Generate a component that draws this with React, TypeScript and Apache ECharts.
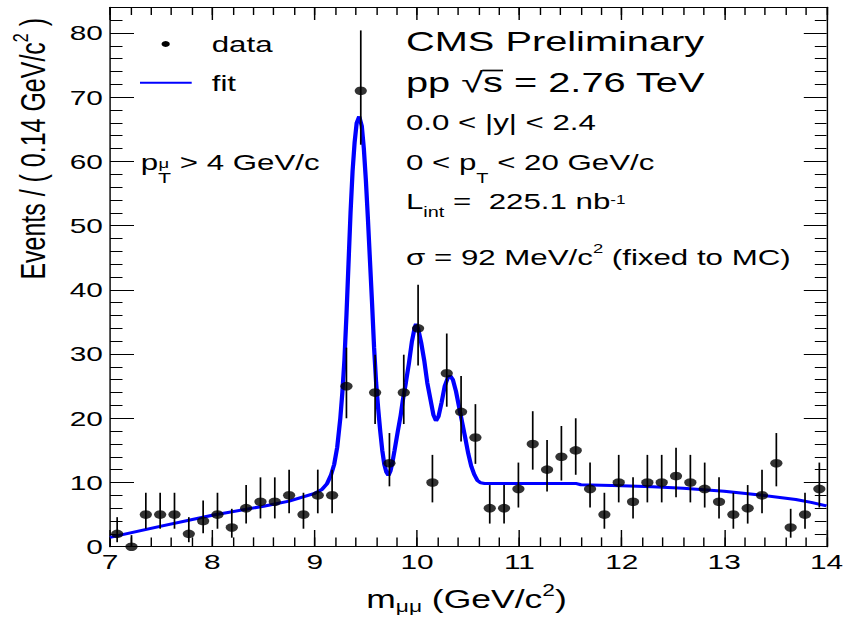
import React, { useEffect, useRef } from "react";
import * as echarts from "echarts";

const FONT = '"Liberation Sans", Arial, Helvetica, sans-serif';
const PAGE_W = 848;
const PAGE_H = 618;
const INNER_W = 597;
const S = PAGE_W / INNER_W; // horizontal stretch of the original picture
const ix = (xOuter: number) => xOuter / S;

// ---- data (bin width 0.14 GeV/c^2) ----
const binCenters = [
  7.07, 7.21, 7.35, 7.49, 7.63, 7.77, 7.91, 8.05, 8.19, 8.33,
  8.47, 8.61, 8.75, 8.89, 9.03, 9.17, 9.31, 9.45, 9.59, 9.73,
  9.87, 10.01, 10.15, 10.29, 10.43, 10.57, 10.71, 10.85, 10.99, 11.13,
  11.27, 11.41, 11.55, 11.69, 11.83, 11.97, 12.11, 12.25, 12.39, 12.53,
  12.67, 12.81, 12.95, 13.09, 13.23, 13.37, 13.51, 13.65, 13.79, 13.93,
];
const counts = [
  2, 0, 5, 5, 5, 2, 4, 5, 3, 6,
  7, 7, 8, 5, 8, 8, 25, 71, 24, 13,
  24, 34, 10, 27, 21, 17, 6, 6, 9, 16,
  12, 14, 15, 9, 5, 10, 7, 10, 10, 11,
  10, 9, 7, 5, 6, 8, 13, 3, 5, 9,
];
const errLow = [
  0.7, 0, 2.8, 2.8, 2.8, 0.7, 2.1, 2.8, 1.4, 3.6,
  4.4, 4.4, 5.2, 2.8, 5.2, 5.2, 20.0, 62.6, 19.1, 9.4,
  19.1, 28.2, 6.9, 21.8, 16.4, 12.9, 3.6, 3.6, 6.1, 12.0,
  8.6, 10.3, 11.2, 6.1, 2.8, 6.9, 4.4, 6.9, 6.9, 7.7,
  6.9, 6.1, 4.4, 2.8, 3.6, 5.2, 9.4, 1.4, 2.8, 6.1,
];
const errHigh = [
  4.6, 1.8, 8.4, 8.4, 8.4, 4.6, 7.2, 8.4, 5.9, 9.6,
  10.8, 10.8, 12.0, 8.4, 12.0, 12.0, 31.0, 80.4, 29.9, 17.7,
  29.9, 40.8, 14.3, 33.2, 26.6, 22.2, 9.6, 9.6, 13.1, 21.1,
  16.6, 18.8, 20.0, 13.1, 8.4, 14.3, 10.8, 14.3, 14.3, 15.4,
  14.3, 13.1, 10.8, 8.4, 9.6, 12.0, 17.7, 5.9, 8.4, 13.1,
];

// fit curve
const fitMass = [
  7.0, 7.5, 8.0, 8.5, 8.75, 9.0, 9.07, 9.12, 9.16, 9.19,
  9.22, 9.25, 9.27, 9.29, 9.31, 9.33, 9.35, 9.37, 9.39, 9.41,
  9.435, 9.46, 9.48, 9.5, 9.52, 9.54, 9.56, 9.58, 9.6, 9.62,
  9.64, 9.66, 9.68, 9.7, 9.72, 9.74, 9.76, 9.78, 9.81, 9.84,
  9.86, 9.89, 9.92, 9.95, 9.975, 9.99, 10.01, 10.04, 10.07, 10.1,
  10.13, 10.16, 10.185, 10.21, 10.24, 10.27, 10.3, 10.325, 10.35, 10.38,
  10.41, 10.44, 10.47, 10.5, 10.53, 10.56, 10.59, 10.62, 10.66, 11.55,
  11.6, 12.0, 12.3, 12.6, 13.0, 13.35, 13.7, 13.85, 14.0,
];
const fitEvents = [
  1.45, 3.2, 4.9, 6.3, 7.1, 8.3, 8.9, 9.8, 11.2, 12.8,
  15.5, 20.0, 24.0, 29.0, 36.0, 44.0, 52.0, 58.5, 63.0, 66.0,
  67.0, 65.5, 62.0, 57.0, 51.0, 44.5, 38.0, 31.0, 25.5, 21.5,
  18.0, 15.0, 12.8, 11.6, 11.1, 11.8, 13.2, 15.0, 17.8, 20.5,
  22.7, 25.5, 28.5, 32.0, 34.0, 34.7, 34.0, 31.8, 29.0, 25.5,
  23.0, 20.5, 19.6, 20.3, 22.5, 25.0, 26.3, 26.6, 26.0, 24.2,
  21.8, 19.4, 17.0, 14.5, 12.5, 11.2, 10.3, 9.95, 9.85, 9.85,
  9.65, 9.5, 9.35, 9.1, 8.65, 8.05, 7.35, 6.9, 6.35,
];

const xTickLabels = ["7", "8", "9", "10", "11", "12", "13", "14"];
const yTickLabels = ["0", "10", "20", "30", "40", "50", "60", "70", "80"];

// ---- text helpers (rich text with sub/superscripts) ----
type Seg = { t: string; fs?: number; d?: number };
function richText(segs: Seg[], F: number) {
  const L = Math.round(F * 2.4);
  const rich: Record<string, any> = {
    n: { fontSize: F, fontFamily: FONT, lineHeight: L, verticalAlign: "middle", fill: "#000", color: "#000" },
  };
  let text = "";
  segs.forEach((s, i) => {
    if (s.fs == null) {
      text += `{n|${s.t}}`;
      return;
    }
    const name = "s" + i;
    const off = 0.347 * F + (s.d || 0) - 0.347 * s.fs;
    const h = L - 2 * Math.abs(off);
    rich[name] = {
      fontSize: s.fs,
      fontFamily: FONT,
      fill: "#000",
      color: "#000",
      lineHeight: h,
      height: h,
      verticalAlign: off >= 0 ? "bottom" : "top",
    };
    text += `{${name}|${s.t}}`;
  });
  return { text, rich };
}
function label(segs: Seg[], F: number, xOuter: number, baseline: number, align = "left", extra: any = {}) {
  const r = richText(segs, F);
  return {
    type: "text",
    x: ix(xOuter),
    y: baseline - 0.347 * F,
    silent: true,
    style: {
      text: r.text,
      rich: r.rich,
      fontSize: F,
      fontFamily: FONT,
      fill: "#000",
      align,
      textAlign: align,
      verticalAlign: "middle",
      textVerticalAlign: "middle",
    },
    ...extra,
  };
}

// radical bar over the "s" of "pp √s"
function sqrtBar(F: number, xOuter: number, baseline: number) {
  const x0 = ix(xOuter);
  let left = x0 + 0.549 * F + 1.39 * F - 1;
  let right = left + 0.5 * F + 1;
  let top = baseline - 0.8 * F;
  try {
    const ctx = document.createElement("canvas").getContext("2d");
    if (ctx) {
      ctx.font = `${F}px ${FONT}`;
      const m1 = ctx.measureText("pp √");
      const m2 = ctx.measureText("pp √s");
      const mr = ctx.measureText("√");
      left = x0 + (m1.actualBoundingBoxRight || m1.width) - 1.2;
      right = x0 + (m2.actualBoundingBoxRight || m2.width) + 1;
      if (mr.actualBoundingBoxAscent) top = baseline - mr.actualBoundingBoxAscent + 0.8;
    }
  } catch (e) {
    /* keep estimate */
  }
  return {
    type: "line",
    silent: true,
    shape: { x1: left, y1: top, x2: right, y2: top },
    style: { stroke: "#000", lineWidth: 1.7 },
  };
}

const black = "#000";
const tickAxis = (extra: any) => ({
  type: "value",
  splitLine: { show: false },
  axisLabel: { show: false },
  axisLine: { show: false, onZero: false, lineStyle: { color: black, width: 1 } },
  axisTick: { show: true, inside: true, lineStyle: { color: black, width: 1 } },
  ...extra,
});

export default function App() {
  const ref = useRef<HTMLDivElement>(null);
  useEffect(() => {
    if (!ref.current) return;
    const chart = echarts.init(ref.current, null, { renderer: "svg" });
    const xMin = 7, xMax = 14, yMin = 0, yMax = 84;
    const xCommon = { min: xMin, max: xMax };
    const yCommon = { min: yMin, max: yMax };
    const yTitle = richText(
      [{ t: "Events / ( 0.14 GeV/c" }, { t: "2", fs: 16, d: -12 }, { t: " )" }],
      25
    );
    const option: any = {
      animation: false,
      backgroundColor: "#fff",
      grid: {
        left: ix(110),
        right: ix(848 - 826.5),
        top: 7.3,
        bottom: PAGE_H - 546.7,
        outerBoundsMode: "none",
        containLabel: false,
      },
      xAxis: [
        tickAxis({
          ...xCommon,
          position: "bottom",
          interval: 1,
          axisLine: { show: true, onZero: false, lineStyle: { color: black, width: 1 } },
          axisTick: { show: true, inside: true, length: 16.7, lineStyle: { color: black, width: 1 } },
          axisLabel: {
            show: true,
            color: black,
            fontSize: 21,
            fontFamily: FONT,
            margin: 4,
            formatter: (v: number) => (xTickLabels.includes(String(v)) ? String(v) : ""),
          },
        }),
        tickAxis({
          ...xCommon,
          position: "bottom",
          interval: 0.2,
          axisTick: { show: true, inside: true, length: 9.3, lineStyle: { color: black, width: 1 } },
        }),
        tickAxis({
          ...xCommon,
          position: "top",
          interval: 1,
          axisLine: { show: true, onZero: false, lineStyle: { color: black, width: 1 } },
          axisTick: { show: true, inside: true, length: 12.7, lineStyle: { color: black, width: 1 } },
        }),
        tickAxis({
          ...xCommon,
          position: "top",
          interval: 0.2,
          axisTick: { show: true, inside: true, length: 7.7, lineStyle: { color: black, width: 1 } },
        }),
      ],
      yAxis: [
        tickAxis({
          ...yCommon,
          position: "left",
          interval: 10,
          axisLine: { show: true, onZero: false, lineStyle: { color: black, width: 1 } },
          axisTick: { show: true, inside: true, length: ix(24), lineStyle: { color: black, width: 1 } },
          axisLabel: {
            show: true,
            color: black,
            fontSize: 21,
            fontFamily: FONT,
            margin: 5,
            formatter: (v: number) => (yTickLabels.includes(String(v)) ? String(v) : ""),
          },
        }),
        tickAxis({
          ...yCommon,
          position: "left",
          interval: 2,
          axisTick: { show: true, inside: true, length: ix(12.5), lineStyle: { color: black, width: 1 } },
        }),
        tickAxis({
          ...yCommon,
          position: "right",
          interval: 10,
          axisLine: { show: true, onZero: false, lineStyle: { color: black, width: 1 } },
          axisTick: { show: true, inside: true, length: ix(22.7), lineStyle: { color: black, width: 1 } },
        }),
        tickAxis({
          ...yCommon,
          position: "right",
          interval: 2,
          axisTick: { show: true, inside: true, length: ix(11.7), lineStyle: { color: black, width: 1 } },
        }),
      ],
      series: [
        {
          name: "fit",
          type: "line",
          xAxisIndex: 0,
          yAxisIndex: 0,
          data: fitMass.map((m, i) => [m, fitEvents[i]]),
          showSymbol: false,
          symbol: "none",
          smooth: false,
          lineStyle: { color: "#0000ff", width: 3 },
          z: 2,
          silent: true,
        },
        {
          name: "errors",
          type: "custom",
          xAxisIndex: 0,
          yAxisIndex: 0,
          data: binCenters.map((m, i) => [m, errLow[i], errHigh[i]]),
          encode: { x: 0, y: [1, 2] },
          renderItem: (_params: any, api: any) => {
            const p1 = api.coord([api.value(0), api.value(1)]);
            const p2 = api.coord([api.value(0), api.value(2)]);
            return {
              type: "line",
              shape: { x1: p1[0], y1: p1[1], x2: p2[0], y2: p2[1] },
              style: { stroke: black, lineWidth: 1.2 },
            };
          },
          z: 3,
          silent: true,
        },
        {
          name: "data",
          type: "scatter",
          xAxisIndex: 0,
          yAxisIndex: 0,
          data: binCenters.map((m, i) => [m, counts[i]]),
          symbol: "circle",
          symbolSize: 8.6,
          itemStyle: { color: black },
          z: 4,
          silent: true,
        },
      ],
      graphic: {
        elements: [
          // legend
          { type: "circle", shape: { cx: ix(165.7), cy: 44, r: 2.9 }, style: { fill: black }, silent: true },
          label([{ t: "data" }], 22, 211.7, 52.3),
          {
            type: "line",
            shape: { x1: ix(140), y1: 82.7, x2: ix(191.7), y2: 82.7 },
            style: { stroke: "#0000ff", lineWidth: 2 },
            silent: true,
          },
          label([{ t: "fit" }], 22, 211.7, 91.7),
          // muon pT cut
          label([{ t: "p" }, { t: "T", fs: 15, d: 12.6 }, { t: " > 4 GeV/c" }], 22, 140.7, 170.7),
          label([{ t: "μ", fs: 13, d: -13.5 }], 22, 158.5, 170.7),
          // right-hand texts
          label([{ t: "CMS Preliminary" }], 28, 406, 51),
          label([{ t: "pp √s = 2.76 TeV" }], 28, 406, 91.7),
          sqrtBar(28, 406, 91.7),
          label([{ t: "0.0 < |y| < 2.4" }], 22, 406, 130.5),
          label([{ t: "0 < p" }, { t: "T", fs: 14, d: 13.3 }, { t: " < 20 GeV/c" }], 22, 406, 170),
          label(
            [{ t: "L" }, { t: "int", fs: 14, d: 7.4 }, { t: " =  225.1 nb" }, { t: "-1", fs: 12, d: -5 }],
            22,
            406,
            209.3
          ),
          label(
            [{ t: "σ = 92 MeV/c" }, { t: "2", fs: 13, d: -11.7 }, { t: " (fixed to MC)" }],
            22,
            406,
            265
          ),
          // axis titles
          label(
            [{ t: "m" }, { t: "μμ", fs: 16, d: 3.7 }, { t: " (GeV/c" }, { t: "2", fs: 16, d: -12 }, { t: ")" }],
            25,
            466.5,
            608,
            "center"
          ),
          {
            type: "text",
            x: ix(32.5),
            y: 18,
            rotation: Math.PI / 2,
            silent: true,
            style: {
              text: yTitle.text,
              rich: yTitle.rich,
              fontSize: 25,
              fontFamily: FONT,
              fill: black,
              align: "right",
              textAlign: "right",
              verticalAlign: "middle",
              textVerticalAlign: "middle",
            },
          },
        ],
      },
    };
    chart.setOption(option);
    return () => chart.dispose();
  }, []);

  return (
    <div
      style={{
        position: "fixed",
        left: 0,
        top: 0,
        width: PAGE_W,
        height: PAGE_H,
        overflow: "hidden",
        background: "#fff",
      }}
    >
      <div
        ref={ref}
        style={{
          width: INNER_W,
          height: PAGE_H,
          transform: `scaleX(${S})`,
          transformOrigin: "0 0",
        }}
      />
    </div>
  );
}
